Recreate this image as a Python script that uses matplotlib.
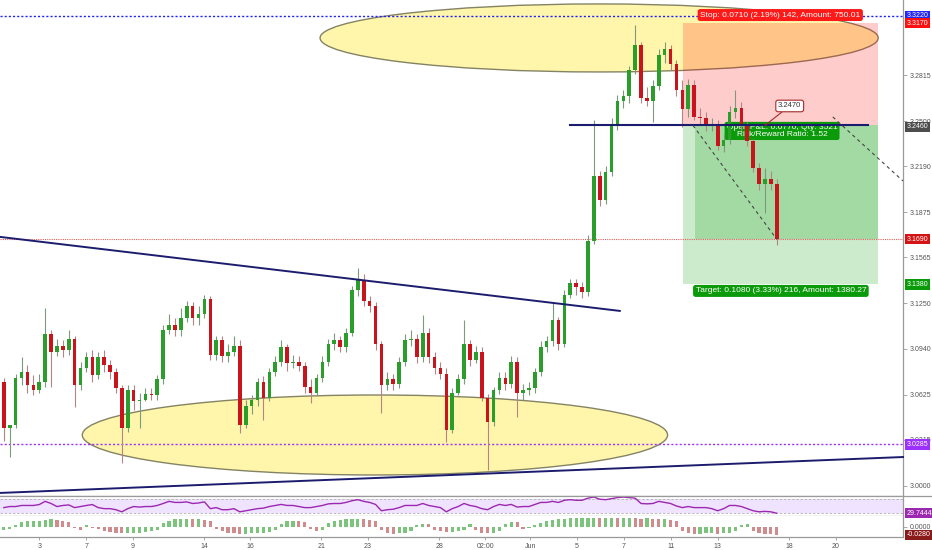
import numpy as np
import matplotlib
matplotlib.use('Agg')
import matplotlib.pyplot as plt
from matplotlib.patches import Ellipse, Rectangle

plt.rcParams['font.family'] = ['Liberation Sans', 'DejaVu Sans']

# 6-hour bars, price values
opens = [3.071, 3.040, 3.042, 3.074, 3.078, 3.069, 3.066, 3.071, 3.104, 3.092,
         3.096, 3.093, 3.101, 3.069, 3.081, 3.088, 3.076, 3.088, 3.083, 3.078,
         3.067, 3.040, 3.066, 3.058, 3.059, 3.063, 3.062, 3.073, 3.107, 3.110,
         3.107, 3.115, 3.123, 3.115, 3.118, 3.128, 3.090, 3.100, 3.089, 3.092,
         3.096, 3.042, 3.055, 3.059, 3.071, 3.060, 3.078, 3.085, 3.095, 3.084,
         3.085, 3.082, 3.068, 3.064, 3.074, 3.085, 3.097, 3.100, 3.095, 3.105,
         3.134, 3.141, 3.127, 3.123, 3.097, 3.069, 3.073, 3.070, 3.085, 3.100,
         3.101, 3.088, 3.105, 3.088, 3.081, 3.077, 3.038, 3.064, 3.073, 3.097,
         3.086, 3.092, 3.060, 3.044, 3.066, 3.074, 3.070, 3.085, 3.064, 3.066,
         3.067, 3.078, 3.095, 3.099, 3.114, 3.097, 3.131, 3.139, 3.136, 3.133,
         3.168, 3.212, 3.196, 3.215, 3.247, 3.264, 3.267, 3.285, 3.302, 3.266,
         3.264, 3.274, 3.295, 3.299, 3.289, 3.271, 3.258, 3.275, 3.253, 3.252,
         3.247, 3.248, 3.233, 3.237, 3.256, 3.259, 3.247, 3.236, 3.218, 3.207,
         3.210, 3.207]
highs = [3.074, 3.042, 3.077, 3.088, 3.083, 3.076, 3.077, 3.122, 3.107, 3.101,
         3.100, 3.107, 3.103, 3.085, 3.092, 3.093, 3.092, 3.093, 3.086, 3.081,
         3.069, 3.069, 3.069, 3.064, 3.067, 3.067, 3.076, 3.110, 3.118, 3.115,
         3.122, 3.127, 3.126, 3.123, 3.131, 3.130, 3.103, 3.103, 3.097, 3.103,
         3.100, 3.059, 3.062, 3.074, 3.075, 3.081, 3.089, 3.100, 3.097, 3.090,
         3.089, 3.085, 3.073, 3.077, 3.089, 3.101, 3.105, 3.103, 3.108, 3.137,
         3.149, 3.145, 3.130, 3.126, 3.099, 3.078, 3.077, 3.088, 3.104, 3.107,
         3.104, 3.117, 3.108, 3.092, 3.085, 3.081, 3.067, 3.077, 3.114, 3.100,
         3.096, 3.095, 3.063, 3.068, 3.078, 3.078, 3.089, 3.088, 3.070, 3.071,
         3.081, 3.099, 3.103, 3.125, 3.116, 3.134, 3.142, 3.142, 3.140, 3.172,
         3.251, 3.216, 3.219, 3.252, 3.268, 3.271, 3.288, 3.316, 3.304, 3.273,
         3.278, 3.299, 3.304, 3.302, 3.292, 3.278, 3.279, 3.278, 3.259, 3.256,
         3.252, 3.251, 3.241, 3.260, 3.271, 3.263, 3.249, 3.238, 3.221, 3.218,
         3.216, 3.210]
lows = [3.031, 3.020, 3.040, 3.069, 3.064, 3.062, 3.064, 3.068, 3.068, 3.089,
        3.088, 3.090, 3.054, 3.066, 3.078, 3.071, 3.073, 3.078, 3.073, 3.064,
        3.016, 3.037, 3.052, 3.040, 3.058, 3.059, 3.059, 3.070, 3.104, 3.103,
        3.103, 3.112, 3.110, 3.110, 3.115, 3.086, 3.086, 3.085, 3.085, 3.089,
        3.036, 3.040, 3.049, 3.055, 3.045, 3.058, 3.075, 3.082, 3.079, 3.081,
        3.079, 3.064, 3.057, 3.062, 3.071, 3.082, 3.093, 3.092, 3.092, 3.103,
        3.130, 3.123, 3.119, 3.093, 3.050, 3.066, 3.066, 3.067, 3.082, 3.096,
        3.084, 3.085, 3.084, 3.077, 3.073, 3.030, 3.036, 3.062, 3.070, 3.082,
        3.084, 3.058, 3.011, 3.041, 3.063, 3.066, 3.067, 3.047, 3.059, 3.062,
        3.064, 3.075, 3.092, 3.096, 3.093, 3.095, 3.129, 3.131, 3.129, 3.130,
        3.166, 3.192, 3.193, 3.212, 3.244, 3.259, 3.262, 3.282, 3.262, 3.260,
        3.249, 3.271, 3.290, 3.285, 3.267, 3.246, 3.253, 3.251, 3.247, 3.243,
        3.243, 3.230, 3.229, 3.234, 3.252, 3.244, 3.233, 3.215, 3.203, 3.187,
        3.203, 3.165]
closes = [3.040, 3.042, 3.074, 3.078, 3.069, 3.066, 3.071, 3.104, 3.092, 3.096,
          3.093, 3.101, 3.069, 3.081, 3.088, 3.076, 3.088, 3.083, 3.078, 3.067,
          3.040, 3.066, 3.058, 3.059, 3.063, 3.062, 3.073, 3.107, 3.110, 3.107,
          3.115, 3.123, 3.115, 3.118, 3.128, 3.090, 3.100, 3.089, 3.092, 3.096,
          3.042, 3.055, 3.059, 3.071, 3.060, 3.078, 3.085, 3.095, 3.084, 3.085,
          3.082, 3.068, 3.064, 3.074, 3.085, 3.097, 3.100, 3.095, 3.105, 3.134,
          3.141, 3.127, 3.123, 3.097, 3.069, 3.073, 3.070, 3.085, 3.100, 3.101,
          3.088, 3.105, 3.088, 3.081, 3.077, 3.038, 3.064, 3.073, 3.097, 3.086,
          3.092, 3.060, 3.044, 3.066, 3.074, 3.070, 3.085, 3.064, 3.066, 3.067,
          3.078, 3.095, 3.099, 3.114, 3.097, 3.131, 3.139, 3.136, 3.133, 3.168,
          3.212, 3.196, 3.215, 3.247, 3.264, 3.267, 3.285, 3.302, 3.266, 3.264,
          3.274, 3.295, 3.299, 3.289, 3.271, 3.258, 3.275, 3.253, 3.252, 3.247,
          3.248, 3.233, 3.237, 3.256, 3.259, 3.247, 3.236, 3.218, 3.207, 3.210,
          3.207, 3.169]

rsi = [45.5, 48.5, 48.5, 51.5, 51.5, 51.5, 54, 63, 57, 48.5,
       51.5, 53, 45.5, 48.5, 51.5, 54, 45.5, 42.6, 42.6, 39.6,
       33.7, 42.6, 48.5, 47, 48.5, 48.5, 51.5, 57, 63, 60,
       60, 61.5, 57, 58.5, 61.5, 42.6, 45.5, 39.6, 39.6, 42.6,
       33.7, 36.7, 39.6, 42.6, 44, 48.5, 51.5, 54.4, 51.5, 51.5,
       48.5, 45.5, 45.5, 48.5, 51.5, 56, 57, 57, 60, 64.7,
       67.7, 63, 60, 54.4, 36.7, 39.6, 41, 45.5, 51.5, 51.5,
       51.5, 57, 51.5, 48.5, 45.5, 33.7, 42.6, 48.5, 57, 51.5,
       48.5, 42.6, 39.6, 48.5, 54.4, 51.5, 54.4, 47, 48.5, 48.5,
       54.4, 60, 60, 63, 60, 66, 67.7, 66, 66, 72,
       75, 69, 67.7, 70.6, 73.6, 75, 73.6, 72, 57, 56,
       57, 63, 60, 57, 50, 45.5, 48.5, 45.5, 45.5, 45.5,
       42.6, 36.7, 42.6, 51.5, 51.5, 48.5, 42.6, 36.7, 33.7, 35,
       33.7, 29.7]

hist = [-0.010, -0.008,
        0.006, 0.014, 0.018, 0.020, 0.020, 0.022, 0.024, 0.022, 0.020, 0.016,
        -0.006, -0.010, 0.006, -0.004, -0.008,
        -0.014, -0.018, -0.020, -0.022, -0.022, -0.020, -0.020, -0.018, -0.016, -0.012,
        0.012, 0.020, 0.024, 0.026, 0.026, 0.024, 0.024, 0.022, 0.018,
        -0.008, -0.016, -0.020, -0.022, -0.024, -0.024, -0.022, -0.022, -0.020, -0.018, -0.012,
        0.010, 0.018, 0.020, 0.018, 0.014,
        -0.008, -0.014, -0.010,
        0.012, 0.018, 0.022, 0.024, 0.026, 0.026, 0.024, 0.022, 0.018,
        -0.012, -0.020, -0.024, -0.022, -0.020, -0.016,
        0.006, 0.010, 0.008,
        -0.010, -0.016, -0.018, -0.018, -0.016, -0.012,
        0.008,
        -0.012, -0.020, -0.022, -0.020, -0.016,
        0.010, 0.016, 0.014,
        -0.008, -0.006,
        0.006, 0.012, 0.018, 0.022, 0.024, 0.026, 0.028, 0.028, 0.030, 0.030,
        0.030, 0.028, 0.030, 0.030, 0.028, 0.028, 0.030, 0.028, 0.026, 0.028,
        0.026, 0.024, 0.026, 0.022, 0.018,
        -0.016, -0.022, -0.024, -0.024, -0.022, -0.022, -0.024, -0.022, -0.020, -0.016,
        0.006, 0.010,
        -0.016, -0.022, -0.024, -0.026, -0.028]

price_ticks = [3.0000, 3.0315, 3.0625, 3.0940, 3.1250, 3.1565, 3.1875, 3.2190, 3.2500, 3.2815]
date_pos = [6, 14, 21.9, 33.9, 41.7, 53.8, 61.7, 73.8, 81.6, 89.2, 97.1, 105.1, 113.1, 121, 133.1, 141]
date_labels = ['3', '7', '9', '14', '16', '21', '23', '28', '02:00', 'Jun', '5', '7', '11', '13', '18', '20']

entry, stop, target, last = 3.247, 3.317, 3.138, 3.169

W, H = 932, 550
fig = plt.figure(figsize=(W / 100, H / 100), dpi=100)
ax = fig.add_axes([0, 1 - 496 / H, 903 / W, 496 / H])
ax_rsi = fig.add_axes([0, 1 - 516 / H, 903 / W, 20 / H], sharex=ax)
ax_h = fig.add_axes([0, 1 - 537 / H, 903 / W, 21 / H], sharex=ax)

GRAY = '#9a9a9a'
for a in (ax, ax_rsi, ax_h):
    a.set_xlim(-0.65, 152.4)
    for s in ('left', 'top'):
        a.spines[s].set_visible(False)
    for s in ('right', 'bottom'):
        a.spines[s].set_color(GRAY)
        a.spines[s].set_linewidth(0.9)
    a.yaxis.tick_right()
    a.tick_params(axis='y', length=3, width=0.6, color=GRAY, labelsize=5, labelcolor='#555555', pad=2)
    a.tick_params(axis='x', length=0, labelbottom=False)

# candles
x = np.arange(len(closes))
o, hi, lo, c = map(np.array, (opens, highs, lows, closes))
up = c >= o
body_col = np.where(up, '#2a9d2a', '#c8141c')
wick_col = np.where(up, '#7d9a7d', '#b58585')
ax.vlines(x, lo, hi, colors=wick_col, lw=0.8, zorder=3)
ax.bar(x, np.maximum(np.abs(c - o), 0.0008), bottom=np.minimum(o, c), width=0.6,
       color=body_col, linewidth=0, zorder=4)

ax.set_ylim(2.9931, 3.3329)
ax.set_yticks(price_ticks)
ax.set_yticklabels([f'{t:.4f}' for t in price_ticks])

# ellipses
for cx, cy, w, h in [(100.9, 3.3069, 94.6, 0.0466), (62.9, 3.0349, 99.2, 0.0548)]:
    ax.add_patch(Ellipse((cx, cy), w, h, fc='#fff59d', ec='#6e6e50', lw=1.0, alpha=0.85, zorder=1.5))

# long position tool
x0, x1 = 115.1, 148.2
ax.add_patch(Rectangle((x0, entry), x1 - x0, stop - entry, fc=(1, 0, 0, 0.2), lw=0, zorder=2.2))
ax.add_patch(Rectangle((x0, target), x1 - x0, entry - target, fc=(0, 0.6, 0, 0.2), lw=0, zorder=2.2))
ax.add_patch(Rectangle((117.1, last), x1 - 117.1, entry - last, fc=(0, 0.6, 0, 0.2), lw=0, zorder=2.2))

# horizontal levels
ax.axhline(3.322, color='#1f1fff', ls=(0, (1.5, 1.5)), lw=1, zorder=2.5)
ax.axhline(last, color='#e06060', ls=(0, (1, 1)), lw=0.8, zorder=2.5)
ax.axhline(3.0285, color='#9b30ff', ls=(0, (1.5, 1.5)), lw=1, zorder=2.5)

# trend lines
NAVY = '#1c1c6e'
ax.plot([-0.64, 104.4], [3.1706, 3.1199], color=NAVY, lw=1.4, zorder=5)
ax.plot([-0.64, 152.4], [2.9952, 3.0198], color=NAVY, lw=1.4, zorder=5, clip_on=False)
ax.plot([96, 146.5], [entry, entry], color=NAVY, lw=1.5, zorder=5)
ax.plot([116.8, 131], [entry, last], color='#444444', lw=0.8, ls=(0, (3, 3)), zorder=5)
ax.plot([140.5, 152.4], [3.2528, 3.2089], color='#444444', lw=0.8, ls=(0, (3, 3)), zorder=5)

# labels of the position tool
ax.text(131.6, 3.3226, 'Stop: 0.0710 (2.19%) 142, Amount: 750.01', ha='center', va='center',
        fontsize=6, color='white', zorder=7,
        bbox=dict(boxstyle='round,pad=0.3', fc='#ff1a1a', ec='none'))
ax.text(131.7, 3.1336, 'Target: 0.1080 (3.33%) 216, Amount: 1380.27', ha='center', va='center',
        fontsize=6, color='white', zorder=7,
        bbox=dict(boxstyle='round,pad=0.3', fc='#0a9a0a', ec='none'))
ax.text(131.9, 3.2432, 'Open P&L: 0.0770, Qty: 3521\nRisk/Reward Ratio: 1.52', ha='center', va='center',
        fontsize=6, color='white', zorder=2.8, linespacing=1.0,
        bbox=dict(boxstyle='round,pad=0.25', fc='#0a9a0a', ec='none'))
ax.annotate('3.2470', xy=(129, entry), xytext=(133.2, 3.2603), ha='center', va='center',
            fontsize=5.5, color='#333333', zorder=7,
            bbox=dict(boxstyle='round,pad=0.3', fc='white', ec='#a52a2a', lw=0.8),
            arrowprops=dict(arrowstyle='-', color='#a52a2a', lw=0.8, shrinkA=0, shrinkB=0))


def tag(a, y, text, color):
    a.text(1.004, y, text, transform=a.get_yaxis_transform(), ha='left', va='center',
           fontsize=5, color='white', zorder=10, clip_on=False,
           bbox=dict(boxstyle='square,pad=0.25', fc=color, ec='none'))


tag(ax, 3.322, '3.3220', '#2424ff')
tag(ax, 3.317, '3.3170', '#ff1010')
tag(ax, 3.246, '3.2460', '#4d4d4d')
tag(ax, last, '3.1690', '#d41414')
tag(ax, target, '3.1380', '#0a9a0a')
tag(ax, 3.0285, '3.0285', '#9b30ff')

# RSI pane
ax_rsi.set_ylim(22, 78)
ax_rsi.set_yticks([])
ax_rsi.axhspan(30, 70, color='#efe3ff', lw=0, zorder=1)
for lvl in (30, 70):
    ax_rsi.axhline(lvl, color='#b0b0b0', lw=0.6, ls=(0, (3, 2)), zorder=2)
ax_rsi.plot(x, rsi, color='#9c27b0', lw=1.0, zorder=3)
tag(ax_rsi, rsi[-1], '29.7444', '#9c27b0')

# histogram pane
hv = np.array(hist)
rising = np.r_[True, hv[1:] >= hv[:-1]]
ax_h.bar(x, hv, width=0.55, color=np.where(rising, '#7cc47c', '#d08c8c'), linewidth=0, zorder=3)
ax_h.set_ylim(-0.035, 0.035)
ax_h.set_yticks([0.0])
ax_h.set_yticklabels(['0.0000'])
tag(ax_h, hv[-1], '-0.0280', '#8b1a1a')
ax_h.set_xticks(date_pos)
ax_h.set_xticklabels(date_labels)
ax_h.tick_params(axis='x', length=2, width=0.6, color=GRAY, labelsize=5, labelcolor='#555555',
                 pad=2, labelbottom=True)

fig.add_artist(plt.Line2D([0, 1], [1 - 496 / H, 1 - 496 / H], transform=fig.transFigure,
                          color=GRAY, lw=0.9))

fig.savefig('out.png', dpi=100, facecolor='white')
